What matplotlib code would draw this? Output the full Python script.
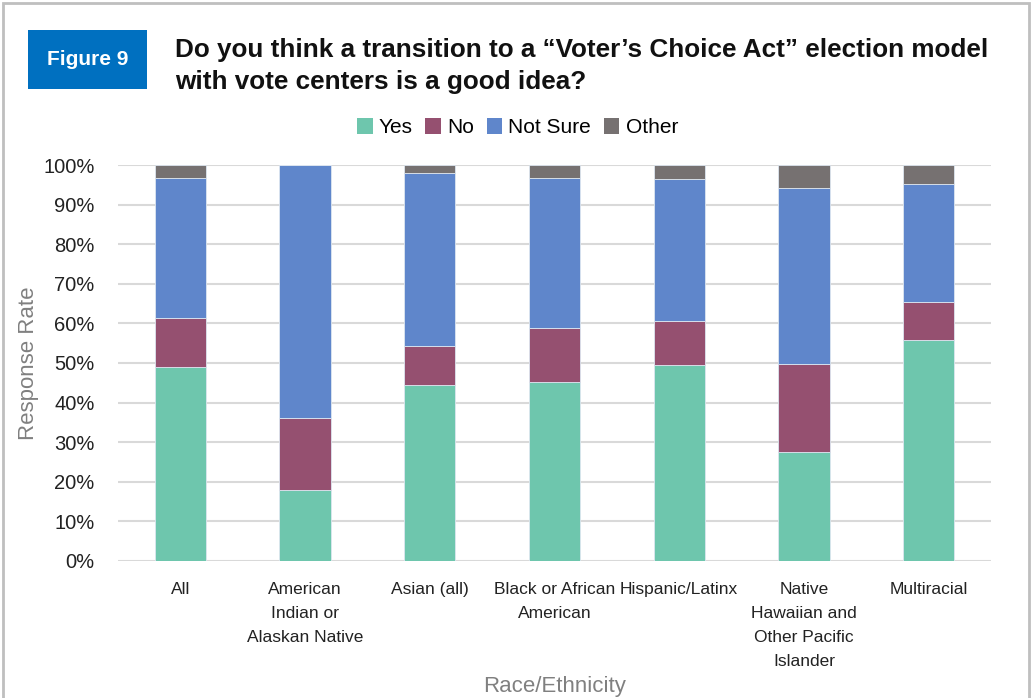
import matplotlib
matplotlib.use("Agg")
import matplotlib.pyplot as plt
from matplotlib.patches import Rectangle, Patch
from matplotlib.ticker import PercentFormatter
import numpy as np

plt.rcParams['font.family'] = ['Liberation Sans', 'DejaVu Sans']

categories = ["All", "American\nIndian or\nAlaskan Native", "Asian (all)",
              "Black or African\nAmerican", "Hispanic/Latinx",
              "Native\nHawaiian and\nOther Pacific\nIslander", "Multiracial"]
yes = [48.9, 18.0, 44.5, 45.1, 49.4, 27.6, 55.9]
no = [12.5, 18.1, 9.9, 13.8, 11.3, 22.2, 9.4]
not_sure = [35.2, 63.9, 43.5, 37.9, 35.7, 44.5, 29.8]
other = [3.4, 0.0, 2.1, 3.2, 3.6, 5.7, 4.9]

series = [("Yes", yes, "#6EC6AD"), ("No", no, "#955070"),
          ("Not Sure", not_sure, "#5F86CB"), ("Other", other, "#767171")]

fig = plt.figure(figsize=(10.35, 6.98), dpi=100)
ax = fig.add_axes([0.114, 0.1963, 0.8435, 0.5673])

x = np.arange(len(categories))
bottom = np.zeros(len(categories))
for name, vals, color in series:
    v = np.array(vals)
    ax.bar(x, v, 0.41, bottom=bottom, color=color, edgecolor="#DDE6F0",
           linewidth=0.6, label=name, zorder=3)
    bottom += v

ax.set_ylim(0, 100)
ax.set_xlim(-0.5, len(categories) - 0.5)
ax.set_yticks(np.arange(0, 101, 10))
ax.yaxis.set_major_formatter(PercentFormatter(decimals=0))
ax.grid(axis="y", color="#D9D9D9", linewidth=1.5, zorder=0)
for s in ax.spines.values():
    s.set_visible(False)
ax.tick_params(axis="both", length=0)
ax.tick_params(axis="y", labelsize=14.5, pad=17, labelcolor="#222222")
ax.set_xticks(x)
ax.set_xticklabels(categories, fontsize=12.5, linespacing=1.75, color="#222222")
ax.tick_params(axis="x", pad=15)
ax.set_ylabel("Response Rate", fontsize=16, color="#808080", va="center")
ax.yaxis.set_label_coords(-0.103, 0.5)
ax.set_xlabel("Race/Ethnicity", fontsize=16, color="#808080", labelpad=5)

handles = [Patch(facecolor=c, label=n) for n, _, c in series]
fig.legend(handles=handles, loc="center", bbox_to_anchor=(0.5, 0.817), ncol=4,
           frameon=False, fontsize=15, handlelength=0.75, handleheight=0.75,
           handletextpad=0.3, columnspacing=0.6)

# Figure label box
fig.patches.append(Rectangle((28 / 1035, 1 - 89 / 698), 119 / 1035, 59 / 698,
                             transform=fig.transFigure, facecolor="#0070C0",
                             edgecolor="none"))
fig.text(87.5 / 1035, 1 - 59.5 / 698, "Figure 9", color="white", fontsize=15,
         fontweight="bold", ha="center", va="center")
fig.text(175 / 1035, 1 - 66 / 698,
         "Do you think a transition to a \u201cVoter\u2019s Choice Act\u201d election model\nwith vote centers is a good idea?",
         fontsize=18.8, fontweight="bold", ha="left", va="center", linespacing=1.45,
         color="#111111")

# outer frame
fig.patches.append(Rectangle((3 / 1035, -0.01), 1026 / 1035, 1 - 3 / 698 + 0.01,
                             transform=fig.transFigure, facecolor="none",
                             edgecolor="#BFBFBF", linewidth=2))

fig.savefig("out.png", dpi=100)
